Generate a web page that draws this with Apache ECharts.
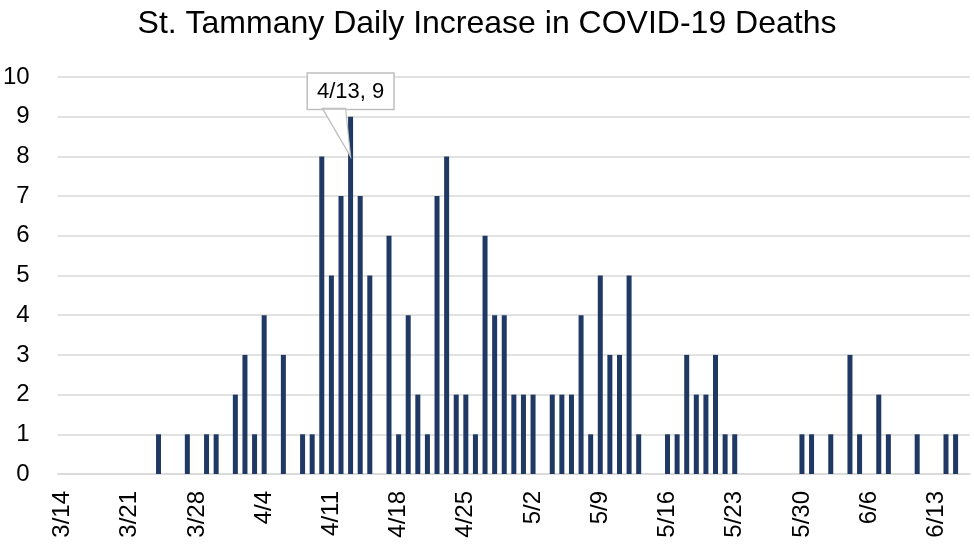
<html>
<head>
<meta charset="UTF-8" />
<script src="https://cdn.jsdelivr.net/npm/echarts@6/dist/echarts.min.js"></script>
</head>
<style type="text/css">
    *{
        margin: 0;
        padding: 0;
    }
    body{
        background: #fff;
    }
    #chart{
        width: 974px;
        height: 551px;
    }
</style>
<body>
<div id="chart"></div>
<script type="text/javascript">
    // dates, 3/14 to 6/16
    var days = [
        '3/14','3/15','3/16','3/17','3/18','3/19','3/20','3/21','3/22','3/23','3/24','3/25','3/26','3/27','3/28','3/29','3/30','3/31',
        '4/1','4/2','4/3','4/4','4/5','4/6','4/7','4/8','4/9','4/10','4/11','4/12','4/13','4/14','4/15','4/16','4/17','4/18','4/19','4/20',
        '4/21','4/22','4/23','4/24','4/25','4/26','4/27','4/28','4/29','4/30',
        '5/1','5/2','5/3','5/4','5/5','5/6','5/7','5/8','5/9','5/10','5/11','5/12','5/13','5/14','5/15','5/16','5/17','5/18','5/19','5/20',
        '5/21','5/22','5/23','5/24','5/25','5/26','5/27','5/28','5/29','5/30','5/31',
        '6/1','6/2','6/3','6/4','6/5','6/6','6/7','6/8','6/9','6/10','6/11','6/12','6/13','6/14','6/15','6/16'
    ];
    // daily increase in deaths
    var deaths = [
        0,0,0,0,0,0,0,0,0,0,1,0,0,1,0,1,1,0,
        2,3,1,4,0,3,0,1,1,8,5,7,9,7,5,0,6,1,4,2,
        1,7,8,2,2,1,6,4,4,2,
        2,2,0,2,2,2,4,1,5,3,3,5,1,0,0,1,1,3,2,2,
        3,1,1,0,0,0,0,0,0,1,1,
        0,1,0,3,1,0,2,1,0,0,1,0,0,1,1,0
    ];
    var yTicks = [0,1,2,3,4,5,6,7,8,9,10];
    var peakDay = '4/13';

    var chart = echarts.init(document.getElementById('chart'));
    var font = 'Liberation Sans, Arial, sans-serif';

    var seriesData = deaths.map(function(v, i){
        if(days[i] === peakDay){
            return {
                value: v,
                label: {
                    show: true,
                    position: 'top',
                    distance: 8,
                    formatter: days[i] + ', ' + v,
                    fontSize: 22,
                    fontFamily: font,
                    color: '#000',
                    backgroundColor: '#fff',
                    borderColor: '#bfbfbf',
                    borderWidth: 1.5,
                    padding: [7, 9, 6, 9]
                }
            };
        }
        return v;
    });

    var option = {
        animation: false,
        title: {
            text: 'St. Tammany Daily Increase in COVID-19 Deaths',
            left: 'center',
            top: 3,
            textStyle: {
                fontFamily: font,
                fontSize: 32,
                fontWeight: 'normal',
                color: '#000'
            }
        },
        grid: {
            left: 57,
            right: 4,
            top: 77,
            bottom: 77,
            containLabel: false
        },
        xAxis: {
            type: 'category',
            data: days,
            axisLine: {lineStyle: {color: '#d9d9d9', width: 1.5}},
            axisTick: {show: false},
            axisLabel: {
                interval: 6,
                rotate: 90,
                fontSize: 24,
                fontFamily: font,
                color: '#000',
                margin: 17
            }
        },
        yAxis: {
            type: 'value',
            min: yTicks[0],
            max: yTicks[yTicks.length - 1],
            interval: 1,
            axisLine: {show: false},
            axisTick: {show: false},
            axisLabel: {
                fontSize: 24,
                fontFamily: font,
                color: '#000',
                margin: 28
            },
            splitLine: {lineStyle: {color: '#d9d9d9', width: 1.5}}
        },
        series: [{
            type: 'bar',
            data: seriesData,
            barWidth: 5,
            itemStyle: {color: '#1f3864'},
            markPoint: {
                silent: true,
                symbol: 'path://M0,0 L23,0 L28,48 Z',
                symbolSize: [28, 48],
                symbolOffset: [-14, 16],
                itemStyle: {color: '#fff', borderColor: '#bfbfbf', borderWidth: 1.5},
                label: {show: false},
                data: [{coord: [peakDay, 9]}]
            }
        }]
    };
    chart.setOption(option);
</script>
</body>
</html>
